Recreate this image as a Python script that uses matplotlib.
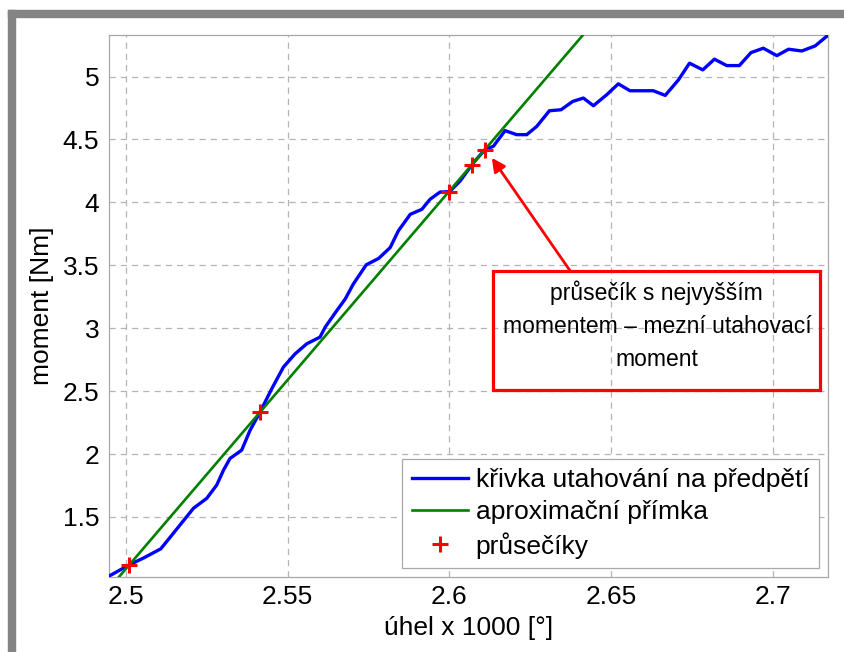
import numpy as np
import matplotlib
matplotlib.use('Agg')
import matplotlib.pyplot as plt
from matplotlib.patches import Rectangle
from matplotlib.ticker import FormatStrFormatter

plt.rcParams['font.family'] = ['Liberation Sans', 'DejaVu Sans']

# measured tightening curve (angle x 1000 [deg], torque [Nm])
uhel = [2.4948, 2.5011, 2.5054, 2.5108, 2.5147, 2.5209, 2.5250, 2.5281, 2.5302,
        2.5322, 2.5358, 2.5384, 2.5415, 2.5451, 2.5487, 2.5523, 2.5559, 2.5600,
        2.5616, 2.5652, 2.5678, 2.5703, 2.5743, 2.5781, 2.5817, 2.5842, 2.5879,
        2.5915, 2.5940, 2.5971, 2.6000, 2.6033, 2.6074, 2.6110, 2.6136, 2.6172,
        2.6208, 2.6239, 2.6270, 2.6309, 2.6345, 2.6381, 2.6414, 2.6445, 2.6486,
        2.6522, 2.6558, 2.6630, 2.6667, 2.6708, 2.6742, 2.6783, 2.6819, 2.6857,
        2.6896, 2.6932, 2.6970, 2.7012, 2.7048, 2.7089, 2.7130, 2.7171]
moment = [1.030, 1.120, 1.173, 1.247, 1.371, 1.569, 1.648, 1.754, 1.873,
          1.965, 2.031, 2.189, 2.335, 2.519, 2.691, 2.796, 2.876, 2.929,
          3.008, 3.140, 3.232, 3.351, 3.504, 3.554, 3.641, 3.773, 3.905,
          3.945, 4.024, 4.082, 4.085, 4.169, 4.314, 4.420, 4.446, 4.570,
          4.538, 4.538, 4.604, 4.728, 4.736, 4.802, 4.829, 4.768, 4.855,
          4.942, 4.887, 4.887, 4.850, 4.974, 5.106, 5.053, 5.138, 5.087,
          5.087, 5.190, 5.225, 5.166, 5.217, 5.203, 5.243, 5.330]

# approximation line (end points)
primka_x = [2.49, 2.65]
primka_y = [0.787, 5.592]

# intersections
prusecik_x = [2.5011, 2.5415, 2.6000, 2.6069, 2.6110]
prusecik_y = [1.120, 2.335, 4.082, 4.300, 4.420]

xticks = [2.5, 2.55, 2.6, 2.65, 2.7]
yticks = [1.5, 2, 2.5, 3, 3.5, 4, 4.5, 5]


def main():
    W, H = 844, 652
    fig = plt.figure(figsize=(W / 100, H / 100), dpi=100)
    ax = fig.add_axes([109 / W, 1 - 577 / H, (828 - 109) / W, (577 - 35) / H])

    ax.plot(uhel, moment, color='#0000ff', linewidth=2.4,
            label='křivka utahování na předpětí', zorder=3)
    ax.plot(primka_x, primka_y, color='#008000', linewidth=1.9,
            label='aproximační přímka', zorder=3)
    ax.plot(prusecik_x, prusecik_y, linestyle='none', marker='+',
            color='#ff0000', markersize=12, markeredgewidth=2.2,
            label='průsečíky', zorder=4)

    ax.set_xlim(2.4948, 2.717)
    ax.set_ylim(1.023, 5.33)
    ax.set_xticks(xticks)
    ax.set_yticks(yticks)
    ax.xaxis.set_major_formatter(FormatStrFormatter('%g'))
    ax.yaxis.set_major_formatter(FormatStrFormatter('%g'))
    ax.tick_params(direction='in', length=0, labelsize=19, colors='#000000')
    ax.tick_params(axis='x', pad=6)
    ax.tick_params(axis='y', pad=7)
    ax.grid(True, color='#b4b4b4', linestyle=(0, (5, 4)), linewidth=0.9)
    for s in ax.spines.values():
        s.set_color('#a8a8a8')
        s.set_linewidth(0.9)

    ax.set_xlabel('úhel x 1000 [°]', fontsize=19, labelpad=5)
    ax.set_ylabel('moment [Nm]', fontsize=19, labelpad=6)

    leg = ax.legend(loc='lower right', fontsize=19, fancybox=False,
                    framealpha=1, edgecolor='#a8a8a8', borderaxespad=0.35,
                    handlelength=2.15, handletextpad=0.28, labelspacing=0.3,
                    borderpad=0.35)
    leg.get_frame().set_linewidth(0.9)

    # annotation box with arrow
    ax.add_patch(Rectangle((2.6136, 2.506), 0.1010, 0.950, fill=False,
                           edgecolor='#ff0000', linewidth=2.3, zorder=5))
    ax.text(2.6641, 3.022, 'průsečík s nejvyšším\nmomentem – mezní utahovací\nmoment',
            ha='center', va='center', fontsize=16.5, linespacing=1.55, zorder=6)
    ax.annotate('', xy=(2.6131, 4.354), xytext=(2.6373, 3.456),
                arrowprops=dict(arrowstyle='-|>', color='#ff0000', lw=2.0,
                                mutation_scale=20, shrinkA=0, shrinkB=0),
                zorder=5)

    # grey frame on left and top
    fig.patches.append(Rectangle((8 / W, 0), 7 / W, (H - 10) / H,
                                 transform=fig.transFigure, color='#848484'))
    fig.patches.append(Rectangle((8 / W, 1 - 17 / H), (W - 8) / W, 7 / H,
                                 transform=fig.transFigure, color='#848484'))

    fig.savefig('out.png', dpi=100)


if __name__ == '__main__':
    main()
